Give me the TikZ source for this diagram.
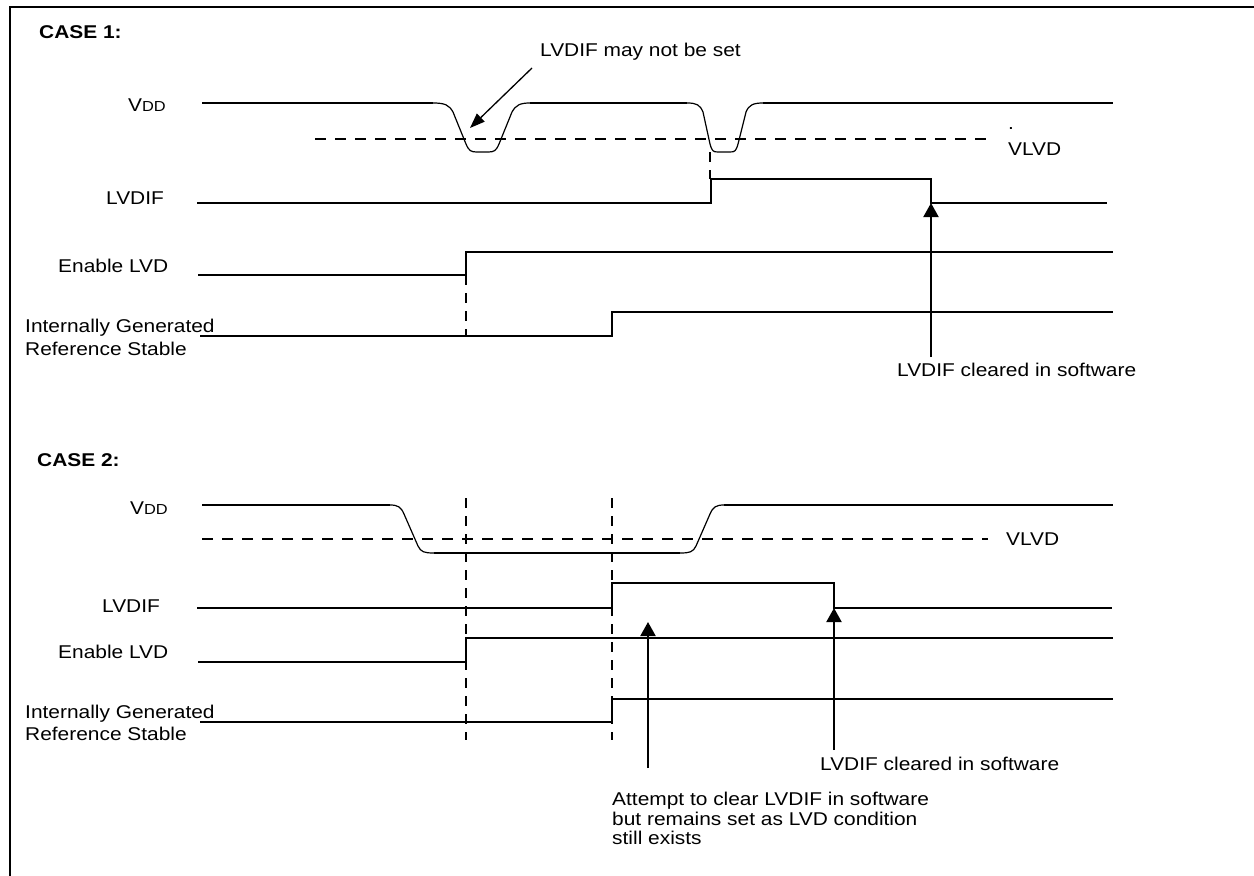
\documentclass[tikz,border=0pt]{standalone}
\usepackage{fontspec}
\setmainfont{Liberation Sans}[FakeStretch=1.13]
\usetikzlibrary{arrows.meta}
\begin{document}
\begin{tikzpicture}[x=1pt,y=-1pt,
  sig/.style={line width=2pt},
  thinsig/.style={line width=1.2pt},
  hdash/.style={line width=2pt, dash pattern=on 11pt off 9pt},
  vdash/.style={line width=1.8pt, dash pattern=on 10pt off 8pt},
  lbl/.style={inner sep=0pt, anchor=base west, font=\fontsize{18.5}{20}\selectfont},
  hdr/.style={lbl, font=\fontsize{18.5}{20}\selectfont\bfseries},
  arr/.style={line width=2pt, -{Triangle[width=15pt,length=14pt]}},
  thinarr/.style={line width=1.3pt, -{Triangle[width=11pt,length=15pt]}},
  frame/.style={line width=2.2pt}
]
\useasboundingbox (0,0) rectangle (1254,876);
\fill[white] (0,0) rectangle (1254,876);
\draw[frame] (10,876) -- (10,7) -- (1254,7);

% ---------------- CASE 1 ----------------
\node[hdr] (case1) at (39,38) {CASE 1:};
\node[lbl] (vdd1) at (128,111) {V{\fontsize{14.5}{15}\selectfont DD}};
\node[lbl] (lvdif1) at (106,204) {LVDIF};
\node[lbl] (en1) at (58,272) {Enable LVD};
\node[lbl] (igrs1a) at (25,332) {Internally Generated};
\node[lbl] (igrs1b) at (25,355) {Reference Stable};
\node[lbl] (dot1) at (1008,129) {.};
\node[lbl] (vlvd1) at (1008,155) {VLVD};
\node[lbl] (note1) at (540,56) {LVDIF may not be set};
\node[lbl] (clr1) at (897,376) {LVDIF cleared in software};

% VDD case 1
\draw[sig] (202,103) -- (433,103);
\draw[thinsig] (433,103) .. controls (445,103) and (449,105) .. (453,112) -- (466,144)
  .. controls (469,151) and (471,152) .. (477,152) -- (488,152)
  .. controls (494,152) and (496,151) .. (499,144) -- (512,112)
  .. controls (516,105) and (520,103) .. (530,103);
\draw[sig] (530,103) -- (687,103);
\draw[thinsig] (687,103) .. controls (697,103) and (700,105) .. (703,112) -- (710,144)
  .. controls (712,151) and (713,152) .. (718,152) -- (730,152)
  .. controls (735,152) and (736,151) .. (738,144) -- (746,112)
  .. controls (749,105) and (753,103) .. (763,103);
\draw[sig] (763,103) -- (1113,103);
\draw[hdash] (315,139) -- (988,139);
\draw[vdash] (710,152) -- (710,179);

% LVDIF case 1
\draw[sig] (197,203) -- (711,203) -- (711,179) -- (931,179) -- (931,203) -- (1107,203);
% Enable case 1
\draw[sig] (198,275) -- (466,275) -- (466,252) -- (1113,252);
% Reference stable case 1
\draw[sig] (200,336) -- (612,336) -- (612,312) -- (1113,312);
\draw[vdash] (466,275) -- (466,336);

\coordinate (n1a) at (532,68);
\coordinate (n1b) at (470,128);
\draw[thinarr] (n1a) -- (n1b);
\coordinate (c1a) at (931,357);
\coordinate (c1b) at (931,203);
\draw[arr] (c1a) -- (c1b);

% ---------------- CASE 2 ----------------
\node[hdr] (case2) at (37,466) {CASE 2:};
\node[lbl] (vdd2) at (130,514) {V{\fontsize{14.5}{15}\selectfont DD}};
\node[lbl] (vlvd2) at (1006,545) {VLVD};
\node[lbl] (lvdif2) at (102,612) {LVDIF};
\node[lbl] (en2) at (58,658) {Enable LVD};
\node[lbl] (igrs2a) at (25,718) {Internally Generated};
\node[lbl] (igrs2b) at (25,740) {Reference Stable};
\node[lbl] (clr2) at (820,770) {LVDIF cleared in software};
\node[lbl] (att1) at (612,805) {Attempt to clear LVDIF in software};
\node[lbl] (att2) at (612,825) {but remains set as LVD condition};
\node[lbl] (att3) at (612,844) {still exists};

% VDD case 2
\draw[sig] (202,505) -- (390,505);
\draw[thinsig] (390,505) .. controls (398,505) and (401,507) .. (404,514) -- (418,546)
  .. controls (421,552) and (424,553) .. (434,553);
\draw[sig] (434,553) -- (680,553);
\draw[thinsig] (680,553) .. controls (690,553) and (693,552) .. (696,546) -- (710,514)
  .. controls (713,507) and (716,505) .. (724,505);
\draw[sig] (724,505) -- (1113,505);
\draw[hdash] (202,539) -- (988,539);

% LVDIF case 2
\draw[sig] (197,608) -- (612,608) -- (612,583) -- (834,583) -- (834,608) -- (1112,608);
% Enable case 2
\draw[sig] (198,662) -- (466,662) -- (466,638) -- (1113,638);
% Reference stable case 2
\draw[sig] (200,722) -- (612,722) -- (612,699) -- (1113,699);
\draw[vdash] (466,498) -- (466,740);
\draw[vdash] (612,498) -- (612,740);

\coordinate (a1a) at (648,768);
\coordinate (a1b) at (648,622);
\draw[arr] (a1a) -- (a1b);
\coordinate (a2a) at (834,750);
\coordinate (a2b) at (834,608);
\draw[arr] (a2a) -- (a2b);
\end{tikzpicture}
\end{document}
